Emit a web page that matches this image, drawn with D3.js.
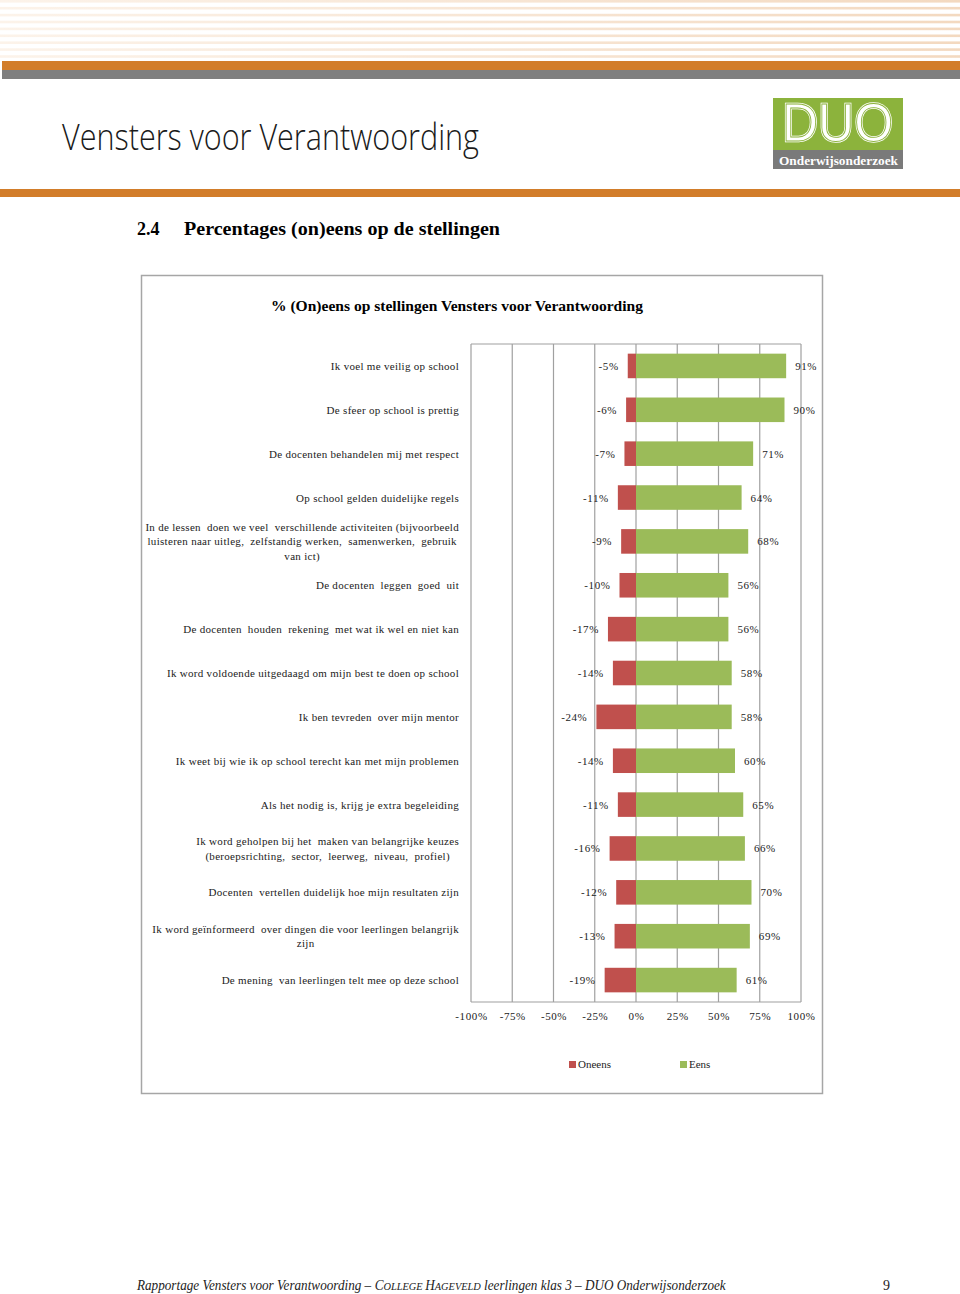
<!DOCTYPE html>
<html>
<head>
<meta charset="utf-8">
<script src="https://cdn.jsdelivr.net/npm/d3@7"></script>
<style>
  body { margin: 0; background: #fff; }
  svg { display: block; }
</style>
</head>
<body>
<div class="canvas"></div>
<script>
// data
const categories = [
  'Ik voel me veilig op school',
  'De sfeer op school is prettig',
  'De docenten behandelen mij met respect',
  'Op school gelden duidelijke regels',
  'In de lessen  doen we veel  verschillende activiteiten (bijvoorbeeld|luisteren naar uitleg,  zelfstandig werken,  samenwerken,  gebruik|van ict)',
  'De docenten  leggen  goed  uit',
  'De docenten  houden  rekening  met wat ik wel en niet kan',
  'Ik word voldoende uitgedaagd om mijn best te doen op school',
  'Ik ben tevreden  over mijn mentor',
  'Ik weet bij wie ik op school terecht kan met mijn problemen',
  'Als het nodig is, krijg je extra begeleiding',
  'Ik word geholpen bij het  maken van belangrijke keuzes|(beroepsrichting,  sector,  leerweg,  niveau,  profiel)',
  'Docenten  vertellen duidelijk hoe mijn resultaten zijn',
  'Ik word geïnformeerd  over dingen die voor leerlingen belangrijk|zijn',
  'De mening  van leerlingen telt mee op deze school'
]
const oneens = [-5, -6, -7, -11, -9, -10, -17, -14, -24, -14, -11, -16, -12, -13, -19]
const eens = [91, 90, 71, 64, 68, 56, 56, 58, 58, 60, 65, 66, 70, 69, 61]
const xTicks = [-100, -75, -50, -25, 0, 25, 50, 75, 100]
const legendItems = ['Oneens', 'Eens']

const data = categories.map((c, i) => ({ name: c, neg: oneens[i], pos: eens[i] }))

const red = '#C0504D'
const green = '#9BBB59'
const logoGreen = '#8CB33C'
const serif = "'Liberation Serif', 'Times New Roman', serif"

const svg = d3.select('.canvas')
  .append('svg')
  .attr('width', 960)
  .attr('height', 1294)

// page header stripes
const stripes = svg.append('defs').append('linearGradient')
  .attr('id', 'stripe')
stripes.append('stop').attr('offset', '0%').attr('stop-color', '#FCF3EA')
stripes.append('stop').attr('offset', '100%').attr('stop-color', '#F3D9C0')

d3.range(9).forEach(i => {
  svg.append('rect')
    .attr('x', 0).attr('y', i * 6.9)
    .attr('width', 960).attr('height', 2.6)
    .attr('fill', 'url(#stripe)')
})
svg.append('rect').attr('x', 2).attr('y', 61).attr('width', 958).attr('height', 9).attr('fill', '#D27D2A')
svg.append('rect').attr('x', 2).attr('y', 70).attr('width', 958).attr('height', 9).attr('fill', '#7F7F7F')

svg.append('text')
  .attr('x', 62).attr('y', 150)
  .attr('font-family', "'Open Sans', sans-serif")
  .attr('font-weight', 300)
  .attr('font-size', 37)
  .attr('textLength', 417)
  .attr('lengthAdjust', 'spacingAndGlyphs')
  .attr('fill', '#1a1a1a')
  .text('Vensters voor Verantwoording')

// logo
svg.append('rect').attr('x', 773).attr('y', 98).attr('width', 130).attr('height', 52).attr('fill', logoGreen)
svg.append('rect').attr('x', 773).attr('y', 150).attr('width', 130).attr('height', 19).attr('fill', '#7A7A7A')
const logo = svg.append('g')
  .attr('font-family', "'Liberation Sans', sans-serif")
  .attr('font-size', 54)
// white letters with a thin green inline
logo.append('text')
  .attr('x', 782).attr('y', 141)
  .attr('textLength', 111)
  .attr('lengthAdjust', 'spacingAndGlyphs')
  .attr('fill', '#fff')
  .attr('stroke', '#fff')
  .attr('stroke-width', 2.5)
  .text('DUO')
logo.append('text')
  .attr('x', 782).attr('y', 141)
  .attr('textLength', 111)
  .attr('lengthAdjust', 'spacingAndGlyphs')
  .attr('fill', 'none')
  .attr('stroke', logoGreen)
  .attr('stroke-width', 0.9)
  .text('DUO')
svg.append('text')
  .attr('x', 779).attr('y', 165)
  .attr('font-family', serif)
  .attr('font-weight', 'bold')
  .attr('font-size', 13)
  .attr('textLength', 119)
  .attr('lengthAdjust', 'spacingAndGlyphs')
  .attr('fill', '#fff')
  .text('Onderwijsonderzoek')

svg.append('rect').attr('x', 0).attr('y', 189).attr('width', 960).attr('height', 8).attr('fill', '#D27D2A')

// section heading
svg.append('text')
  .attr('x', 137).attr('y', 235)
  .attr('font-family', serif).attr('font-weight', 'bold').attr('font-size', 18)
  .text('2.4')
svg.append('text')
  .attr('x', 184).attr('y', 235)
  .attr('font-family', serif).attr('font-weight', 'bold').attr('font-size', 18)
  .attr('textLength', 316).attr('lengthAdjust', 'spacingAndGlyphs')
  .text('Percentages (on)eens op de stellingen')

// chart frame
svg.append('rect')
  .attr('x', 141.5).attr('y', 275.5)
  .attr('width', 681).attr('height', 818)
  .attr('fill', '#fff')
  .attr('stroke', '#A6A6A6')
  .attr('stroke-width', 1.5)

svg.append('text')
  .attr('x', 457).attr('y', 311)
  .attr('text-anchor', 'middle')
  .attr('font-family', serif).attr('font-weight', 'bold').attr('font-size', 14)
  .attr('textLength', 372).attr('lengthAdjust', 'spacingAndGlyphs')
  .text('% (On)eens op stellingen Vensters voor Verantwoording')

// plot area
const plot = { left: 471, right: 801, top: 344, bottom: 1002 }

const x = d3.scaleLinear()
  .domain([-100, 100])
  .range([plot.left, plot.right])

const y = d3.scaleBand()
  .domain(data.map(d => d.name))
  .range([plot.top, plot.bottom])
  .paddingInner(0.44)
  .paddingOuter(0.22)

const graph = svg.append('g')

// gridlines
graph.selectAll('line.grid')
  .data(xTicks)
  .enter().append('line')
  .attr('class', 'grid')
  .attr('x1', d => x(d)).attr('x2', d => x(d))
  .attr('y1', plot.top).attr('y2', plot.bottom)
  .attr('stroke', '#A0A0A0')
  .attr('stroke-width', 1.2)

graph.append('line')
  .attr('x1', plot.left).attr('x2', plot.right)
  .attr('y1', plot.top).attr('y2', plot.top)
  .attr('stroke', '#A0A0A0').attr('stroke-width', 1.2)
graph.append('line')
  .attr('x1', plot.left).attr('x2', plot.right)
  .attr('y1', plot.bottom).attr('y2', plot.bottom)
  .attr('stroke', '#A0A0A0').attr('stroke-width', 1.2)

// bars
graph.selectAll('rect.neg')
  .data(data)
  .enter().append('rect')
  .attr('class', 'neg')
  .attr('x', d => x(d.neg))
  .attr('y', d => y(d.name))
  .attr('width', d => x(0) - x(d.neg))
  .attr('height', y.bandwidth())
  .attr('fill', red)

graph.selectAll('rect.pos')
  .data(data)
  .enter().append('rect')
  .attr('class', 'pos')
  .attr('x', x(0))
  .attr('y', d => y(d.name))
  .attr('width', d => x(d.pos) - x(0))
  .attr('height', y.bandwidth())
  .attr('fill', green)

// value labels
const labelStyle = sel => sel
  .attr('font-family', serif)
  .attr('font-size', 11)
  .attr('letter-spacing', 0.6)
  .attr('fill', '#222')

graph.selectAll('text.neg')
  .data(data)
  .enter().append('text')
  .attr('class', 'neg')
  .attr('x', d => x(d.neg) - 9)
  .attr('y', d => y(d.name) + y.bandwidth() / 2 + 4)
  .attr('text-anchor', 'end')
  .call(labelStyle)
  .text(d => d.neg + '%')

graph.selectAll('text.pos')
  .data(data)
  .enter().append('text')
  .attr('class', 'pos')
  .attr('x', d => x(d.pos) + 9)
  .attr('y', d => y(d.name) + y.bandwidth() / 2 + 4)
  .call(labelStyle)
  .text(d => d.pos + '%')

// category labels, wrapped lines centred on each other, block right aligned
const catLabels = graph.selectAll('g.cat')
  .data(data)
  .enter().append('g')
  .attr('class', 'cat')

catLabels.each(function (d) {
  const g = d3.select(this)
  const lines = d.name.split('|')
  const cy = y(d.name) + y.bandwidth() / 2
  const lineH = 14.2
  const texts = lines.map((line, i) => g.append('text')
    .attr('y', cy + 4 + (i - (lines.length - 1) / 2) * lineH)
    .attr('font-family', serif)
    .attr('font-size', 11)
    .attr('letter-spacing', 0.3)
    .attr('fill', '#222')
    .attr('xml:space', 'preserve')
    .style('white-space', 'pre')
    .text(line))
  const widths = texts.map(t => t.node().getComputedTextLength())
  const maxW = d3.max(widths)
  texts.forEach(t => t.attr('x', 459 - maxW / 2).attr('text-anchor', 'middle'))
})

// x axis
const xAxis = d3.axisBottom(x)
  .tickValues(xTicks)
  .tickSize(0)
  .tickPadding(10)
  .tickFormat(d => `${d}%`)

const xAxisGroup = svg.append('g')
  .attr('transform', `translate(0, ${plot.bottom})`)
  .call(xAxis)
xAxisGroup.select('.domain').remove()
xAxisGroup.selectAll('text')
  .attr('font-family', serif)
  .attr('font-size', 11)
  .attr('letter-spacing', 0.6)
  .attr('fill', '#222')

// legend
const legend = svg.append('g')
  .selectAll('g')
  .data(legendItems)
  .enter().append('g')
  .attr('transform', (d, i) => `translate(${569 + i * 111}, 1061)`)
legend.append('rect')
  .attr('width', 7).attr('height', 7)
  .attr('fill', (d, i) => i === 0 ? red : green)
legend.append('text')
  .attr('x', 9).attr('y', 7)
  .attr('font-family', serif)
  .attr('font-size', 11)
  .attr('fill', '#222')
  .text(d => d)

// footer: pieces laid out one after another, then squeezed to the reference width
const footerParts = [
  { t: 'Rapportage Vensters voor Verantwoording – ', s: 14 },
  { t: 'C', s: 14 },
  { t: 'OLLEGE ', s: 11 },
  { t: 'H', s: 14 },
  { t: 'AGEVELD', s: 11 },
  { t: ' leerlingen klas 3 – DUO Onderwijsonderzoek', s: 14 }
]
const footer = svg.append('g')
let fx = 0
footerParts.forEach(p => {
  const t = footer.append('text')
    .attr('x', fx).attr('y', 0)
    .attr('font-family', serif)
    .attr('font-style', 'italic')
    .attr('font-size', p.s)
    .attr('fill', '#222')
    .attr('xml:space', 'preserve')
    .style('white-space', 'pre')
    .text(p.t)
  fx += t.node().getComputedTextLength()
})
footer.attr('transform', `translate(137, 1290) scale(${589 / fx}, 1)`)

svg.append('text')
  .attr('x', 890).attr('y', 1290)
  .attr('text-anchor', 'end')
  .attr('font-family', serif)
  .attr('font-size', 14)
  .attr('fill', '#222')
  .text('9')
</script>
</body>
</html>
